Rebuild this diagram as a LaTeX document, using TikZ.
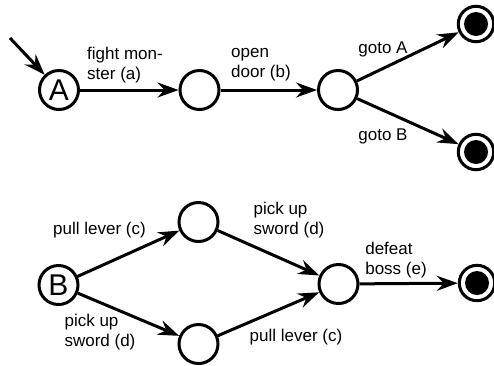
\documentclass[tikz,border=0pt]{standalone}
\usepackage{fontspec}
\setmainfont{Liberation Sans}
\usetikzlibrary{arrows.meta}
\begin{document}
\begin{tikzpicture}[x=1pt,y=-1pt,
  state/.style={circle,draw,line width=3pt,minimum size=39pt,inner sep=0pt,font=\fontsize{30}{30}\selectfont},
  final/.style={circle,draw,line width=3pt,minimum size=35.4pt,inner sep=0pt,
    path picture={\fill (path picture bounding box.center) circle (12pt);}},
  trans/.style={line width=3pt,-{Stealth[length=21pt,width=15pt,inset=7pt]}},
  lbl/.style={inner sep=0pt,align=left,font=\fontsize{17}{20}\selectfont}]
\useasboundingbox (0,0) rectangle (494,365);
% top automaton
\node[state] (A) at (59,90) {A};
\node[state] (s1) at (199.5,90) {};
\node[state] (s2) at (338,90) {};
\node[final] (fA) at (476,24) {};
\node[final] (fB) at (476,152) {};
\coordinate (init) at (10,38);
\draw[trans] (init) -- (A);
\draw[trans] (A) -- (s1);
\draw[trans] (s1) -- (s2);
\draw[trans] (s2) -- (fA);
\draw[trans] (s2) -- (fB);
\node[lbl] (la) at (125,65) {fight mon-\\ster (a)};
\node[lbl] (lb) at (261,65) {open\\door (b)};
\node[lbl] (lgA) at (383,49) {goto A};
\node[lbl] (lgB) at (383,136) {goto B};
% bottom automaton
\node[state] (B) at (58.5,285) {B};
\node[state] (u) at (198.5,222) {};
\node[state] (d) at (198.5,344) {};
\node[state] (m) at (338.5,284) {};
\node[final] (fC) at (477,283) {};
\draw[trans] (B) -- (u);
\draw[trans] (B) -- (d);
\draw[trans] (u) -- (m);
\draw[trans] (d) -- (m);
\draw[trans] (m) -- (fC);
\node[lbl] (lc1) at (99.5,230) {pull lever (c)};
\node[lbl] (ld1) at (100,332) {pick up\\sword (d)};
\node[lbl] (ld2) at (289,220) {pick up\\sword (d)};
\node[lbl] (le) at (396,260) {defeat\\boss (e)};
\node[lbl] (lc2) at (296,337) {pull lever (c)};
\end{tikzpicture}
\end{document}
